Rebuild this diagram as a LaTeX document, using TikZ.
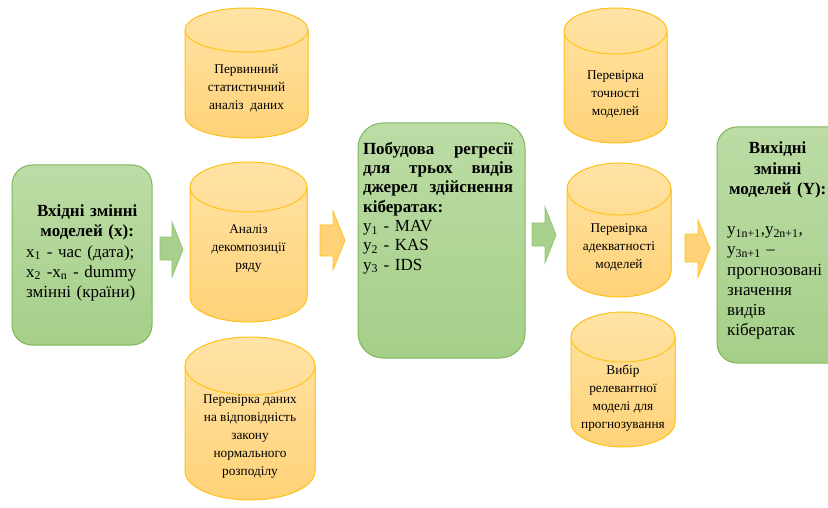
\documentclass[tikz,border=0pt]{standalone}
\usepackage{fontspec}
\setmainfont{Liberation Serif}
\newfontfamily\tnr{Liberation Serif}
\usetikzlibrary{positioning}

\definecolor{greentop}{HTML}{BCDCA5}
\definecolor{greenbot}{HTML}{A5CF89}
\definecolor{greenline}{HTML}{7DB65B}
\definecolor{goldtop}{HTML}{FFE3A6}
\definecolor{goldbot}{HTML}{FFD277}
\definecolor{goldline}{HTML}{FFC31A}
\definecolor{arrgreen}{HTML}{A6D08B}
\definecolor{arrgreenline}{HTML}{92C676}

% cylinder: name, centre x, top, bottom, half width, cap half height, text y, text
\newcommand{\datacyl}[8]{%
  \filldraw[cylbody] (#2-#5,#3+#6) -- (#2-#5,#4-#6)
    arc[start angle=180,end angle=360,x radius=#5pt,y radius=#6pt]
    -- (#2+#5,#3+#6)
    arc[start angle=0,end angle=180,x radius=#5pt,y radius=#6pt] -- cycle;
  \draw[cylrim] (#2-#5,#3+#6)
    arc[start angle=180,end angle=360,x radius=#5pt,y radius=#6pt];
  \node[cyltext] (#1) at (#2,#7) {#8};}
% centred line inside a left aligned node
\newcommand{\midline}[1]{\hspace*{\fill}#1\hspace*{\fill}\null}

\begin{document}
\begin{tikzpicture}[x=1pt,y=-1pt,
  greenbox/.style={
    draw=greenline,
    line width=1pt,
    top color=greentop,
    bottom color=greenbot
  },
  boxtext/.style={
    inner sep=0pt,
    align=left,
    font=\tnr\fontsize{17}{20.2}\selectfont
  },
  cylbody/.style={draw=goldline, line width=1pt, top color=goldtop, bottom color=goldbot},
  cylrim/.style={draw=goldline, line width=1pt},
  cyltext/.style={
    inner sep=0pt,
    align=center,
    font=\tnr\fontsize{13.3}{18}\selectfont
  },
  garrow/.style={draw=arrgreenline, line width=0.8pt, fill=arrgreen},
  oarrow/.style={draw=goldline, line width=0.8pt, fill=goldbot}
]
\useasboundingbox (0,0) rectangle (828,508);
\clip (0,0) rectangle (828,508);

% input variables
\node[greenbox, rounded corners=20pt, minimum width=140pt, minimum height=180pt] (inp) at (82,255) {};
\node[boxtext, text width=122pt, anchor=west] (inptext) at (26,253)
{\midline{\textbf{Вхідні змінні}}\\
 \midline{\textbf{моделей (x):}}\\
 x\textsubscript{1} - час (дата);\\
 x\textsubscript{2} -x\textsubscript{n} - dummy\\
 змінні (країни)};

% first group of checks
\datacyl{stat}{246.5}{8}{138}{61.5}{22}{88}{Первинний\\ статистичний\\ аналіз\ \ даних}
\datacyl{decomp}{248.5}{162}{322}{58.5}{25}{249}{Аналіз\\ декомпозиції\\ ряду}
\datacyl{norm}{250}{337}{500}{65}{29}{437}{Перевірка даних\\ на відповідність\\ закону\\ нормального\\ розподілу}

% regression
\node[greenbox, rounded corners=25pt, minimum width=167pt, minimum height=235pt] (reg) at (441.5,240.5) {};
\node[boxtext, text width=150pt, anchor=north,
  font=\tnr\fontsize{17}{19.3}\selectfont] (regtext) at (438,142)
{\textbf{Побудова\hfill регресії}\\
 \textbf{для\hfill трьох\hfill видів}\\
 \textbf{джерел\hfill здійснення}\\
 \textbf{кібератак:}\\
 y\textsubscript{1} - MAV\\
 y\textsubscript{2} - KAS\\
 y\textsubscript{3} - IDS};

% second group of checks
\datacyl{acc}{615.5}{8}{143}{51.5}{23}{94}{Перевірка\\ точності\\ моделей}
\datacyl{adeq}{619}{163}{297}{52}{26}{247}{Перевірка\\ адекватності\\ моделей}
\datacyl{choice}{623}{312}{447}{52}{25}{398}{Вибір\\ релевантної\\ моделі для\\ прогнозування}

% output variables
\node[greenbox, rounded corners=20pt, minimum width=133pt, minimum height=236pt] (outp) at (783.5,245) {};
\node[boxtext, text width=101pt, anchor=north west] (outtext) at (727,142)
{\midline{\textbf{Вихідні}}\\
 \midline{\textbf{змінні}}\\
 \midline{\textbf{моделей (Y):}}\\[20.2pt]
 y\textsubscript{1n+1},y\textsubscript{2n+1},\\
 y\textsubscript{3n+1} –\\
 прогнозовані\\
 значення\\
 видів\\
 кібератак};

% block arrows
\draw[garrow] (160,237) -- (172,237) -- (172,222) -- (183,249.5) -- (172,277) -- (172,260) -- (160,260) -- cycle;
\draw[oarrow] (320,225) -- (333,225) -- (333,211) -- (345,240.5) -- (333,270) -- (333,256) -- (320,256) -- cycle;
\draw[garrow] (532,223) -- (545,223) -- (545,207) -- (556,235) -- (545,263) -- (545,246) -- (532,246) -- cycle;
\draw[oarrow] (685,234) -- (698,234) -- (698,220) -- (710,248.5) -- (698,277) -- (698,262) -- (685,262) -- cycle;

\end{tikzpicture}
\end{document}
